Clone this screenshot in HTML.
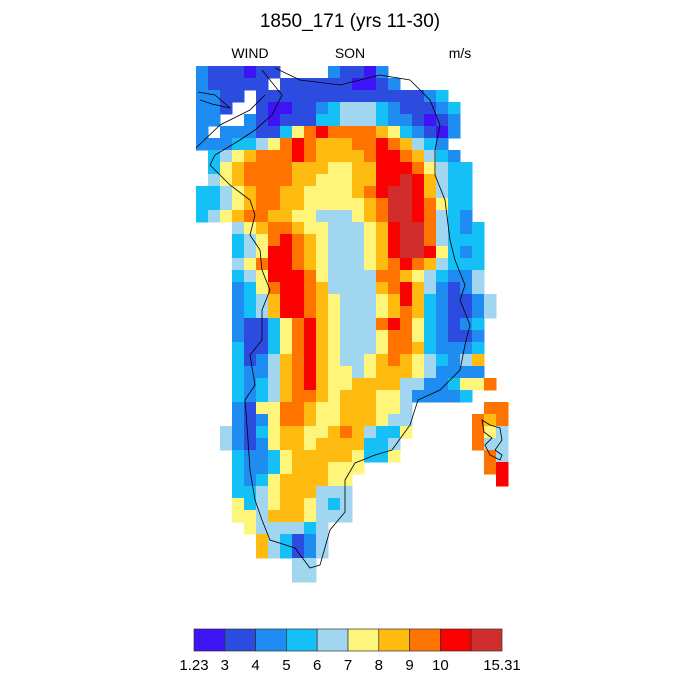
<!DOCTYPE html>
<html><head><meta charset="utf-8"><style>
html,body{margin:0;padding:0;background:#fff;}
svg{display:block;font-family:"Liberation Sans",sans-serif;}
</style></head><body>
<svg id="chart" width="700" height="700" viewBox="0 0 700 700">
<text x="350" y="27" text-anchor="middle" font-size="19">1850_171 (yrs 11-30)</text>
<text x="250" y="58" text-anchor="middle" font-size="14">WIND</text>
<text x="350" y="58" text-anchor="middle" font-size="14">SON</text>
<text x="460" y="58" text-anchor="middle" font-size="14">m/s</text>
<g id="cells"></g>
<path d="M262,70 L282,95 L272,115 L255,130 L240,140 L215,155 L210,165 L230,185 L250,200 L255,215 L250,235 L260,250 L262,270 L270,290 L262,310 L262,340 L250,355 L255,385 L245,400 L248,440 L250,470 L255,500 L262,520 L270,540 L295,548 L310,568 L320,565 L330,530 L345,512 L345,480 L355,463 L375,455 L392,450 L410,425 L418,400 L440,390 L460,370 L465,345 L470,325 L460,300 L465,285 L455,260 L450,240 L445,200 L435,175 L435,150 L440,125 L430,100 L410,80 L380,75 L340,85 L300,80 L275,68" fill="none" stroke="#000" stroke-width="0.8"/>
<path d="M198,92 L215,95 L230,108 L212,104 L200,100 M196,148 L220,125 L250,110 L265,95" fill="none" stroke="#000" stroke-width="0.8"/>
<path d="M482,420 L490,425 L500,428 L502,440 L495,450 L502,455 L500,460 L490,455 L485,445 L492,438 L484,432 Z" fill="none" stroke="#000" stroke-width="0.8"/>
<g id="colorbar"></g>
</svg>
<script>
const colors=["#3c14f5","#2c4ce0","#1e8cf0","#14c0f5","#a0d6f0","#fff57a","#ffbb10","#ff7300","#fa0000","#d22d2d"];
const tickLabels=["1.23","3","4","5","6","7","8","9","10","15.31"];
const gridRows=[
"2111011....21102..........",
"211111.1111110012.........",
"2211.1111111111111123.....",
"221..10011234443211123....",
"22..210111334443221012....",
"2.22211357877776532102....",
"222334578766677876432.....",
".345677787666678876432....",
".3567777666556688875433...",
".4567777665556688986433...",
"33456776655556789986433...",
"33456776655555679987533...",
"34567766554445679987432...",
"...456776554445689974323..",
"...345787654445689974333..",
"...345887654445689985323..",
"...457887654445678764333..",
"...345888754444776543224..",
"...235788764444678642124..",
"...2346887654445686321124.",
"...2346887654445676321124.",
"...211357865444787532123..",
"...211357865444577532112..",
"...311357865444577632223..",
"...312467865445676543246..",
"...322467865545666542 22...".replace(" ","2").slice(0,26),
"...32346786556666442235 7.".replace(" ","5"),
"...32346776566655422 23....".replace(" ","2").slice(0,26),
"...215577655666554......77",
"...212577655666544.....767",
"..4213566556764335.....754",
"..421256656666334......744",
"...32235666665335.......74",
"...32235666555..........78",
"...3235666655............8",
"...3345666444.............",
"...5345665434.............",
"...5546665444.............",
"....5444434...............",
".....643124...............",
".....643124...............",
"........44................",
"........44................"
];
const X0=196,Y0=66,CELL=12;
function xPos(c){return X0+c*CELL;}
function yPos(r){return Y0+r*CELL;}
const NS="http://www.w3.org/2000/svg";
const g=document.getElementById("cells");
gridRows.forEach((row,r)=>{
  for(let c=0;c<row.length;c++){
    const ch=row[c];
    if(ch<"0"||ch>"9")continue;
    const rect=document.createElementNS(NS,"rect");
    rect.setAttribute("x",xPos(c));rect.setAttribute("y",yPos(r));
    rect.setAttribute("width",CELL+0.5);rect.setAttribute("height",CELL+0.5);
    rect.setAttribute("fill",colors[+ch]);
    
    
    g.appendChild(rect);
  }
});
const cb=document.getElementById("colorbar");
const CBX=194,CBW=308,CBY=629,CBH=22,bw=CBW/colors.length;
colors.forEach((col,i)=>{
  const rect=document.createElementNS(NS,"rect");
  rect.setAttribute("x",CBX+i*bw);rect.setAttribute("y",CBY);
  rect.setAttribute("width",bw);rect.setAttribute("height",CBH);
  rect.setAttribute("fill",col);rect.setAttribute("stroke","#333");rect.setAttribute("stroke-width","0.7");
  
  
  cb.appendChild(rect);
});
tickLabels.forEach((t,i)=>{
  const pos=i===tickLabels.length-1?CBX+CBW:CBX+i*bw;
  const tx=document.createElementNS(NS,"text");
  tx.setAttribute("x",pos);tx.setAttribute("y",670);
  tx.setAttribute("text-anchor","middle");tx.setAttribute("font-size","15");
  tx.textContent=t;
  
  
  cb.appendChild(tx);
});
</script>
</body></html>
